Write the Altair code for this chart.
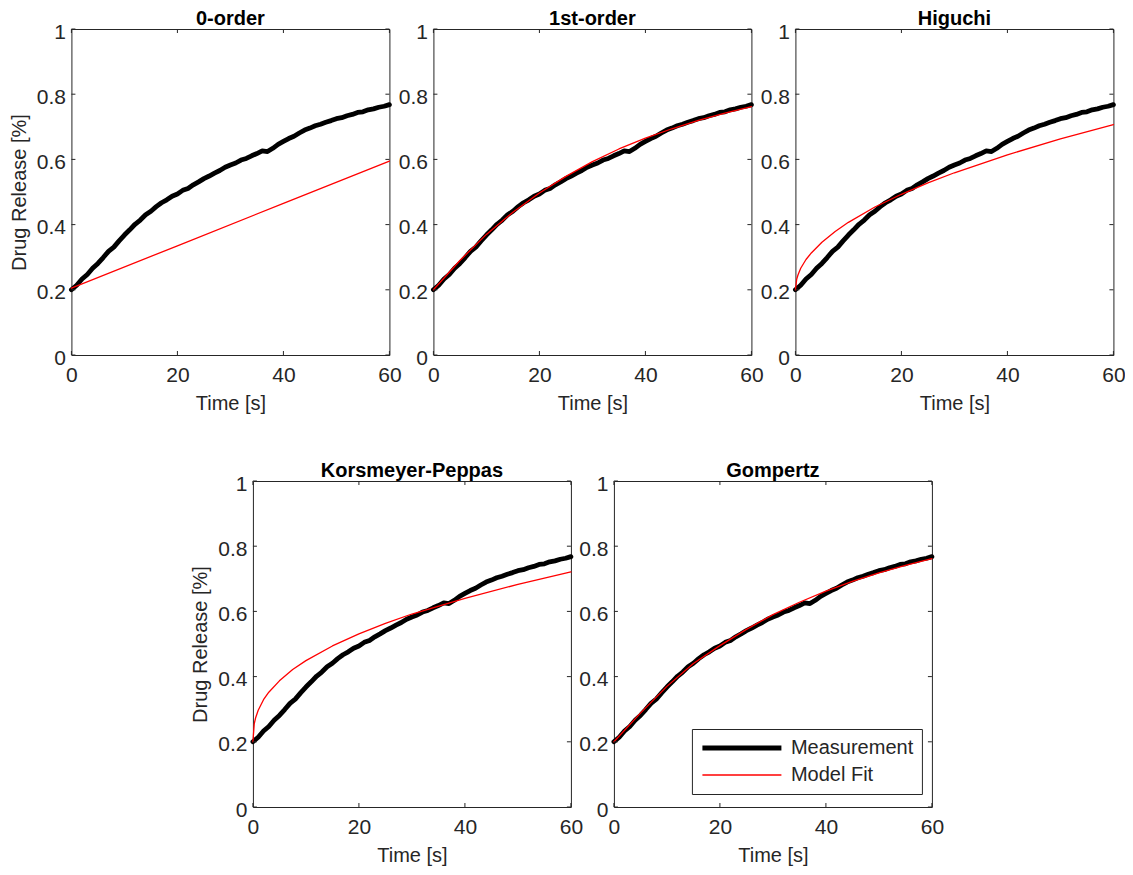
import altair as alt
import pandas as pd

# ---------------- data ----------------
meas_time = list(range(61))
meas_release = [
    0.200, 0.214, 0.233, 0.247, 0.266, 0.281, 0.299, 0.318, 0.331, 0.350,
    0.368, 0.384, 0.401, 0.414, 0.430, 0.441, 0.455, 0.467, 0.476, 0.487,
    0.494, 0.505, 0.511, 0.522, 0.531, 0.541, 0.549, 0.558, 0.566, 0.576,
    0.583, 0.589, 0.598, 0.603, 0.611, 0.618, 0.626, 0.624, 0.634, 0.646,
    0.655, 0.664, 0.671, 0.681, 0.690, 0.696, 0.703, 0.708, 0.714, 0.719,
    0.725, 0.728, 0.734, 0.738, 0.744, 0.746, 0.752, 0.755, 0.760, 0.763,
    0.768,
]

zero_t = [0, 20, 40, 60]
zero_v = [0.205, 0.335, 0.465, 0.595]

first_t = [0, 5, 10, 15, 20, 25, 30, 35, 40, 45, 50, 55, 60]
first_v = [0.200, 0.290, 0.370, 0.438, 0.497, 0.548, 0.593, 0.632, 0.665, 0.694, 0.720, 0.742, 0.762]

higuchi_t = [0, 0.25, 0.5, 1, 2, 3, 5, 7.5, 10, 15, 20, 25, 30, 40, 50, 60]
higuchi_v = [0.200, 0.233, 0.246, 0.266, 0.293, 0.313, 0.346, 0.379, 0.407, 0.454, 0.493, 0.528, 0.559, 0.614, 0.663, 0.707]

kp_t = [0, 0.25, 0.5, 1, 2, 3, 5, 7.5, 10, 15, 20, 25, 30, 40, 50, 60]
kp_v = [0.200, 0.255, 0.273, 0.297, 0.329, 0.352, 0.387, 0.422, 0.449, 0.494, 0.531, 0.563, 0.592, 0.640, 0.683, 0.721]

gomp_t = [0, 5, 10, 15, 20, 25, 30, 35, 40, 45, 50, 55, 60]
gomp_v = [0.200, 0.288, 0.370, 0.440, 0.495, 0.545, 0.590, 0.628, 0.662, 0.692, 0.718, 0.741, 0.762]

x_ticks = [0, 20, 40, 60]
y_ticks = [0, 0.2, 0.4, 0.6, 0.8, 1]

series_names = ["Measurement", "Model Fit"]
series_colors = ["#000000", "#ff0000"]
series_widths = [4.8, 1.3]

W, H = 318, 326
FONT = "Liberation Sans"
AX = "#262626"


def panel(title, fit_t, fit_v, y_title, legend=False):
    meas = pd.DataFrame({"t": meas_time, "v": meas_release, "series": series_names[0]})
    fit = pd.DataFrame({"t": fit_t, "v": fit_v, "series": series_names[1]})
    data = pd.concat([meas, fit], ignore_index=True)

    x = alt.X("t:Q", scale=alt.Scale(domain=[0, 60], nice=False, zero=False),
              axis=alt.Axis(values=x_ticks, title="Time [s]", format=".1~f"))
    y = alt.Y("v:Q", scale=alt.Scale(domain=[0, 1], nice=False),
              axis=alt.Axis(values=y_ticks, title=y_title, format=".1~f"))

    if legend:
        leg = alt.Legend(title=None, orient="none", legendX=78, legendY=248,
                         symbolType="stroke", symbolSize=6241, clipHeight=22,
                         rowPadding=5, labelOffset=7, padding=8,
                         strokeColor=AX, fillColor="white",
                         labelFont=FONT, labelFontSize=20, labelColor=AX)
    else:
        leg = None
    color = alt.Color("series:N", scale=alt.Scale(domain=series_names, range=series_colors), legend=leg)
    sw = alt.StrokeWidth("series:N", scale=alt.Scale(domain=series_names, range=series_widths), legend=leg)

    lines = alt.Chart(data).mark_line(strokeJoin="round", strokeCap="round").encode(
        x=x, y=y, color=color, strokeWidth=sw,
        order=alt.Order("series:N"),
        detail="series:N",
    )

    xt = pd.DataFrame({"t": x_ticks})
    yt = pd.DataFrame({"v": y_ticks})
    tick_style = dict(color=AX, strokeWidth=1)
    xb = alt.Chart(xt).mark_rule(**tick_style).encode(x=x, y=alt.value(H - 4), y2=alt.value(H))
    xtop = alt.Chart(xt).mark_rule(**tick_style).encode(x=x, y=alt.value(0), y2=alt.value(4))
    yl = alt.Chart(yt).mark_rule(**tick_style).encode(y=y, x=alt.value(0), x2=alt.value(4))
    yr = alt.Chart(yt).mark_rule(**tick_style).encode(y=y, x=alt.value(W - 4), x2=alt.value(W))

    return alt.layer(lines, xb, xtop, yl, yr).properties(
        width=W, height=H,
        title=alt.TitleParams(text=title, fontSize=20, font=FONT, fontWeight="bold",
                              color="#000000", offset=0, dy=8, anchor="middle"),
    )


p1 = panel("0-order", zero_t, zero_v, "Drug Release [%]")
p2 = panel("1st-order", first_t, first_v, None)
p3 = panel("Higuchi", higuchi_t, higuchi_v, None)
p4 = panel("Korsmeyer-Peppas", kp_t, kp_v, "Drug Release [%]")
p5 = panel("Gompertz", gomp_t, gomp_v, None, legend=True)

top = alt.hconcat(p1, p2, p3, spacing=44, bounds="flush").resolve_legend(
    color="independent", strokeWidth="independent")
bottom = alt.hconcat(p4, p5, spacing=43, bounds="flush").resolve_legend(
    color="independent", strokeWidth="independent")

chart = alt.vconcat(top, bottom, spacing=46, center=True).resolve_legend(
    color="independent", strokeWidth="independent"
).properties(
    padding={"left": 0, "top": 0, "right": -1, "bottom": 0},
    background="white",
).configure_view(
    stroke=AX, strokeWidth=1,
).configure_axis(
    domain=False, ticks=False, grid=False,
    labelFont=FONT, labelFontSize=21, labelColor=AX,
    titleFont=FONT, titleFontSize=20, titleFontWeight="normal", titleColor=AX,
    labelFlush=False, labelOverlap=False, labelBound=False,
).configure_axisX(
    labelPadding=9, titlePadding=8,
).configure_axisY(
    labelPadding=6, titlePadding=7, labelOffset=3,
)

chart.save("out.html", embed_options={"renderer": "svg", "actions": False})
